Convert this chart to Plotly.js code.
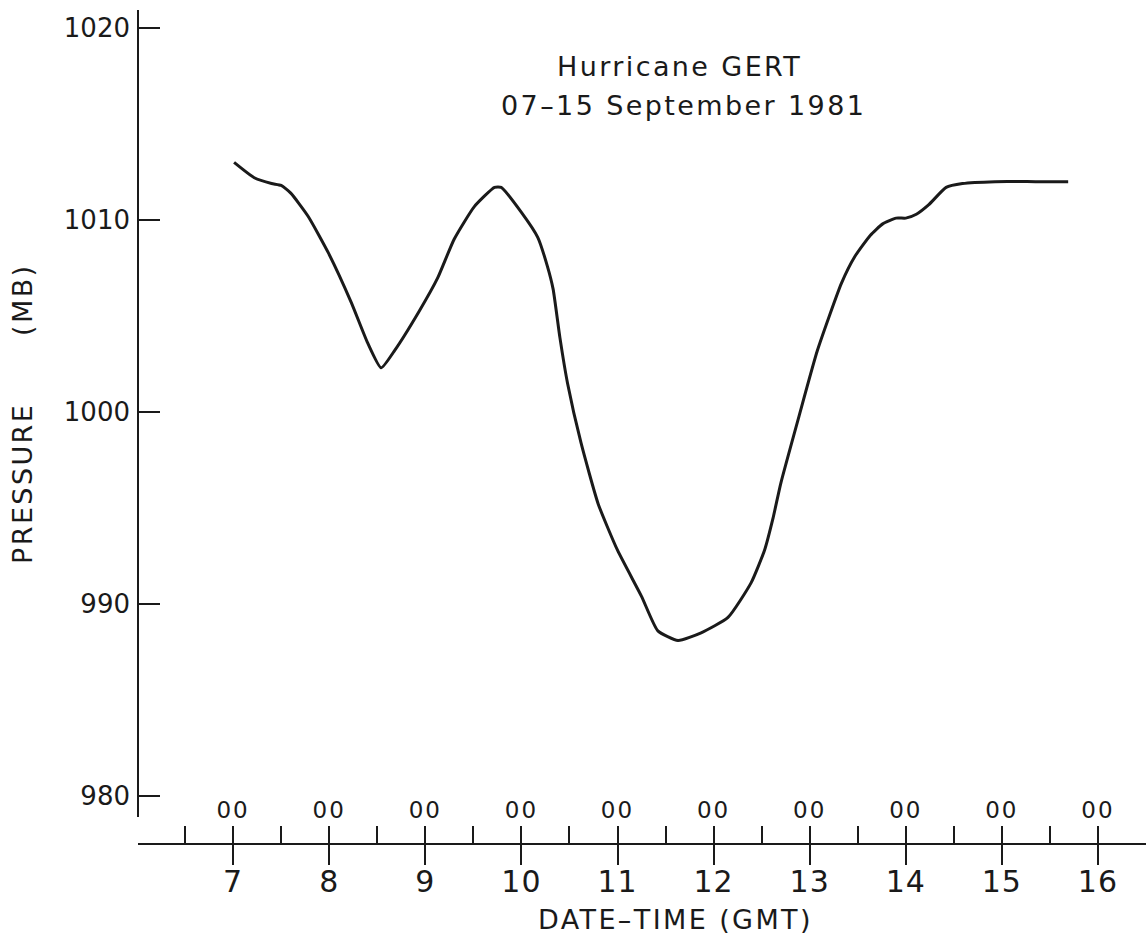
<!DOCTYPE html>
<html>
<head>
<meta charset="utf-8">
<script src="https://cdn.plot.ly/plotly-3.0.1.min.js"></script>
<style>
html,body{margin:0;padding:0;background:#fff;}
.annotation-text{letter-spacing:2.4px;}
.x3tick text{letter-spacing:1px;}
.x2tick text{letter-spacing:2px;}
</style>
</head>
<body>
<div id="chart" style="width:1146px;height:936px;"></div>
<script>
// Date-time (day of September 1981, GMT)
const dayValues = [7.01, 7.22, 7.40, 7.50, 7.60, 7.78, 7.99, 8.23, 8.40, 8.54, 8.68, 8.93, 9.13, 9.30, 9.51, 9.72, 9.79, 10.00, 10.17, 10.27, 10.33, 10.40, 10.48, 10.62, 10.80, 11.00, 11.25, 11.42, 11.63, 11.87, 12.15, 12.39, 12.53, 12.62, 12.70, 12.89, 13.08, 13.33, 13.47, 13.63, 13.76, 13.90, 14.00, 14.11, 14.24, 14.42, 14.59, 14.93, 15.35, 15.69];
// Central pressure (mb)
const pressureValues = [1013.0, 1012.2, 1011.9, 1011.8, 1011.4, 1010.2, 1008.3, 1005.7, 1003.6, 1002.3, 1003.2, 1005.2, 1007.0, 1009.0, 1010.7, 1011.7, 1011.7, 1010.4, 1009.1, 1007.6, 1006.4, 1003.9, 1001.5, 998.4, 995.2, 992.8, 990.4, 988.6, 988.1, 988.5, 989.3, 991.1, 992.8, 994.5, 996.3, 999.8, 1003.2, 1006.7, 1008.1, 1009.2, 1009.8, 1010.1, 1010.1, 1010.3, 1010.8, 1011.7, 1011.9, 1012.0, 1012.0, 1012.0];

const dayTicks = [7, 8, 9, 10, 11, 12, 13, 14, 15, 16];
const dayTickLabels = ["7", "8", "9", "10", "11", "12", "13", "14", "15", "16"];
const hourTicks = [6.5, 7, 7.5, 8, 8.5, 9, 9.5, 10, 10.5, 11, 11.5, 12, 12.5, 13, 13.5, 14, 14.5, 15, 15.5, 16];
const hourTickLabels = ["", "00", "", "00", "", "00", "", "00", "", "00", "", "00", "", "00", "", "00", "", "00", "", "00"];
const pressureTicks = [980, 990, 1000, 1010, 1020];
const pressureTickLabels = ["980", "990", "1000", "1010", "1020"];

const titleLine1 = "Hurricane GERT";
const titleLine2 = "07\u201315 September 1981";
const xTitle = "DATE\u2013TIME (GMT)";
const yTitleMain = "PRESSURE";
const yTitleUnit = "(MB)";

const FONT = "DejaVu Sans, sans-serif";
const INK = "#1a1a1a";

function ghost(axis) {
  return {x: dayValues, y: pressureValues, type: "scatter", mode: "lines",
    line: {color: "rgba(0,0,0,0)", width: 0},
    hoverinfo: "skip", showlegend: false, xaxis: axis, yaxis: "y"};
}

const traces = [
  {
    x: dayValues, y: pressureValues, type: "scatter", mode: "lines",
    line: {color: INK, width: 3, shape: "spline", smoothing: 0.5},
    hoverinfo: "skip", showlegend: false, xaxis: "x", yaxis: "y"
  },
  ghost("x2"),
  ghost("x3")
];

function ann(text, x, y, size, angle) {
  return {text: text, xref: "paper", yref: "paper", x: x, y: y,
    xanchor: "center", yanchor: "middle", showarrow: false,
    textangle: angle || 0, font: {family: FONT, size: size, color: INK}};
}

const layout = {
  width: 1146, height: 936,
  margin: {l: 138, r: 0, t: 10, b: 93},
  paper_bgcolor: "#ffffff",
  plot_bgcolor: "#ffffff",
  showlegend: false,
  font: {family: FONT, color: INK},
  xaxis: {
    range: [6.01, 16.5],
    tickmode: "array", tickvals: dayTicks, ticktext: dayTickLabels,
    ticks: "outside", ticklen: 20, tickwidth: 2, tickcolor: INK,
    showticklabels: false,
    showline: true, linewidth: 2, linecolor: INK,
    showgrid: false, zeroline: false
  },
  xaxis2: {
    overlaying: "x", matches: "x", anchor: "y", side: "bottom",
    tickmode: "array", tickvals: hourTicks, ticktext: hourTickLabels,
    ticks: "inside", ticklen: 17, tickwidth: 2, tickcolor: INK,
    ticklabelposition: "inside", ticklabelstandoff: 5,
    showline: false, showgrid: false, zeroline: false,
    tickfont: {family: FONT, size: 23, color: INK}
  },
  xaxis3: {
    overlaying: "x", matches: "x", anchor: "y", side: "bottom",
    tickmode: "array", tickvals: dayTicks, ticktext: dayTickLabels,
    ticks: "", ticklabelstandoff: 18,
    showline: false, showgrid: false, zeroline: false,
    tickfont: {family: FONT, size: 30, color: INK}
  },
  yaxis: {
    range: [977.55, 1020.94],
    tickmode: "array", tickvals: pressureTicks, ticktext: pressureTickLabels,
    ticks: "inside", ticklen: 22, tickwidth: 2, tickcolor: INK,
    ticklabelstandoff: 7,
    showline: false, showgrid: false, zeroline: false,
    tickfont: {family: FONT, size: 26, color: INK}
  },
  shapes: [
    {type: "line", xref: "paper", yref: "y", x0: 0, x1: 0, y0: 978.9, y1: 1020.94,
     line: {color: INK, width: 2}}
  ],
  annotations: [
    ann(titleLine1, 0.5372, 0.9316, 27),
    ann(titleLine2, 0.5407, 0.8848, 27),
    ann(yTitleMain, -0.1141, 0.4322, 27, -90),
    ann(yTitleUnit, -0.1141, 0.6531, 27, -90),
    ann(xTitle, 0.5337, -0.0924, 27)
  ]
};

Plotly.newPlot("chart", traces, layout, {displayModeBar: false, staticPlot: true});
</script>
</body>
</html>
